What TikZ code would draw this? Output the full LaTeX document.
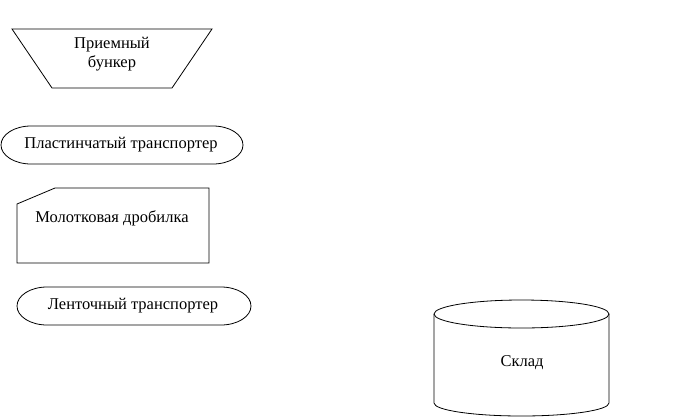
\documentclass[tikz,border=0pt]{standalone}
\usepackage{fontspec}
\setmainfont{Liberation Serif}
\usepackage{tikz}
\usetikzlibrary{positioning}

\begin{document}
\begin{tikzpicture}[x=1pt,y=-1pt,line width=0.8pt,
  lbl/.style={inner sep=0pt,align=center,font=\fontsize{16.5}{19}\selectfont}]
  \useasboundingbox (0,0) rectangle (684,418);

  % receiving hopper (manual operation)
  \draw (12,29) -- (212,29) -- (172,88) -- (52,88) -- cycle;
  \node[lbl] (bunker) at (112,54) {Приемный\\бункер};

  % slat conveyor (terminator)
  \draw (31,126) -- (213,126) arc[start angle=-90,end angle=90,x radius=30,y radius=19]
    -- (31,164) arc[start angle=90,end angle=270,x radius=30,y radius=19];
  \node[lbl] (plast) at (121,145) {Пластинчатый транспортер};

  % hammer crusher (card)
  \draw (55,188) -- (209,188) -- (209,263) -- (17,263) -- (17,204) -- cycle;
  \node[lbl] (drob) at (112,218) {Молотковая дробилка};

  % belt conveyor (terminator)
  \draw (47,287) -- (221,287) arc[start angle=-90,end angle=90,x radius=30,y radius=19]
    -- (47,325) arc[start angle=90,end angle=270,x radius=30,y radius=19];
  \node[lbl] (lent) at (133,306) {Ленточный транспортер};

  % warehouse (stored data)
  \draw (521.5,314) ellipse [x radius=87.5,y radius=14];
  \draw (434,314) -- (434,403) arc[start angle=180,end angle=0,x radius=87.5,y radius=13]
    -- (609,314);
  \node[lbl] (sklad) at (522,363) {Склад};
\end{tikzpicture}
\end{document}
